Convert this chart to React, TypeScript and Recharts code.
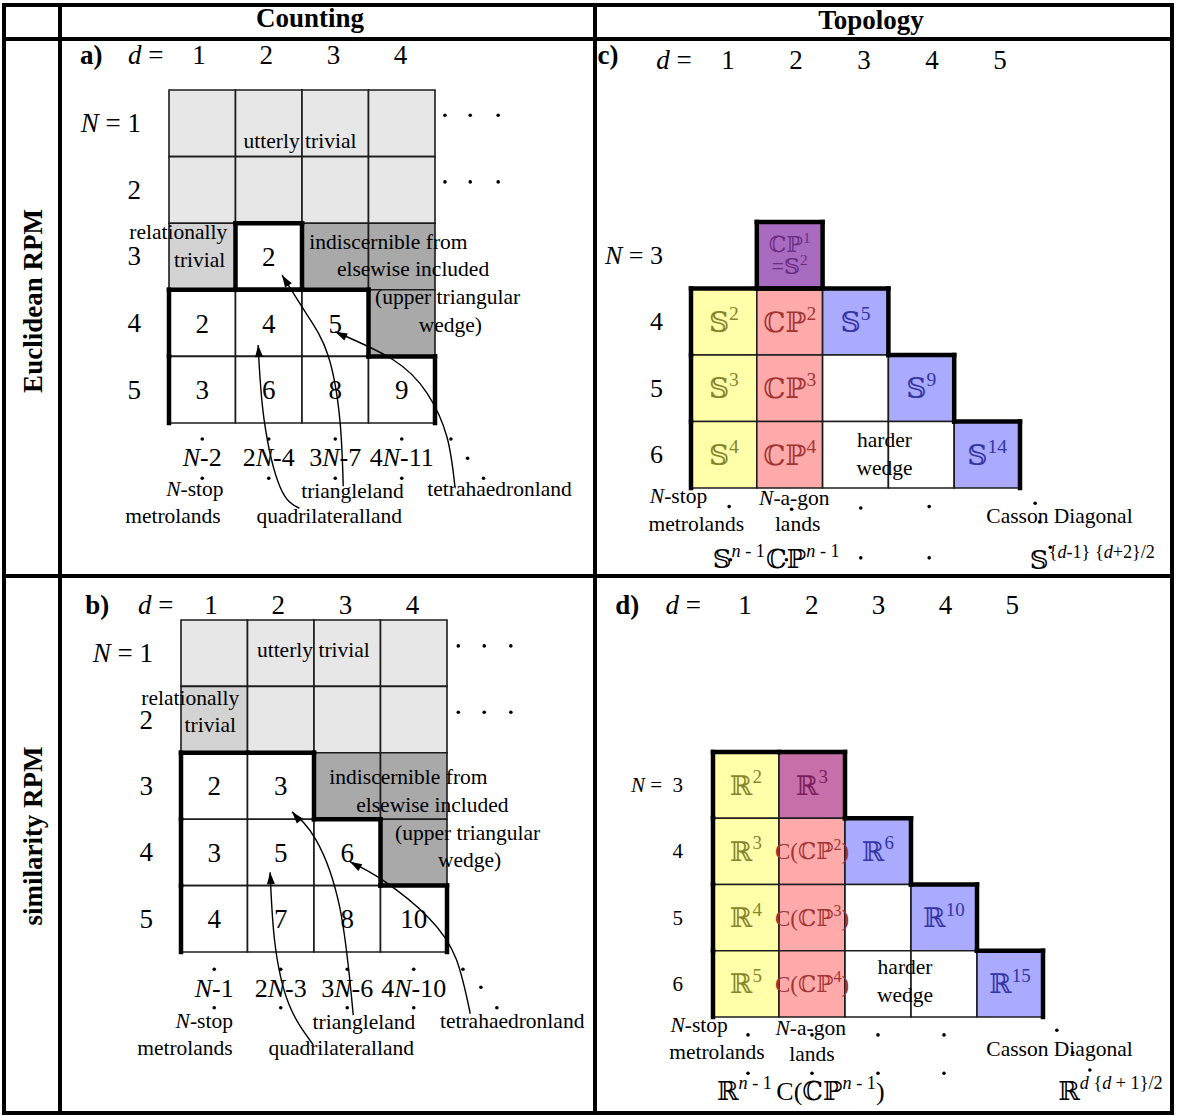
import React from 'react'
import { ComposedChart, Line, ReferenceArea, ReferenceLine, Scatter, XAxis, YAxis } from 'recharts'

const SERIF = "'Liberation Serif', 'Times New Roman', 'DejaVu Serif', serif"

// ---- data ----
const D_COUNT = [1, 2, 3, 4]
const N_COUNT = [1, 2, 3, 4, 5]
const D_TOPO = [1, 2, 3, 4, 5]
const N_TOPO = [3, 4, 5, 6]

// u = utterly trivial, r = relationally trivial, i = indiscernible, w = counted
const EUCLID_COUNTS = [
  [null, null, null, null],
  [null, null, null, null],
  [null, 2, null, null],
  [2, 4, 5, null],
  [3, 6, 8, 9],
]
const EUCLID_COUNT_SHADES = ['uuuu', 'uuuu', 'rwii', 'wwwi', 'wwww']
const EUCLID_FORMULAS = ['*N*-2', '2*N*-4', '3*N*-7', '4*N*-11']

const SIMILARITY_COUNTS = [
  [null, null, null, null],
  [null, null, null, null],
  [2, 3, null, null],
  [3, 5, 6, null],
  [4, 7, 8, 10],
]
const SIMILARITY_COUNT_SHADES = ['uuuu', 'ruuu', 'wwii', 'wwwi', 'wwww']
const SIMILARITY_FORMULAS = ['*N*-1', '2*N*-3', '3*N*-6', '4*N*-10']

// y = metrolands, s = N-a-gon lands, b = Casson diagonal, p/m = triangleland
const EUCLID_TOPOLOGY = [
  [null, 'ℂℙ^[1]|=𝕊^[2]', null, null, null],
  ['𝕊^[2]', 'ℂℙ^[2]', '𝕊^[5]', null, null],
  ['𝕊^[3]', 'ℂℙ^[3]', '', '𝕊^[9]', null],
  ['𝕊^[4]', 'ℂℙ^[4]', '', '', '𝕊^[14]'],
]
const EUCLID_TOPOLOGY_SHADES = ['.p...', 'ysb..', 'yswb.', 'yswwb']

const SIMILARITY_TOPOLOGY = [
  ['ℝ^[2]', 'ℝ^[3]', null, null, null],
  ['ℝ^[3]', 'C(ℂℙ^[2])', 'ℝ^[6]', null, null],
  ['ℝ^[4]', 'C(ℂℙ^[3])', '', 'ℝ^[10]', null],
  ['ℝ^[5]', 'C(ℂℙ^[4])', '', '', 'ℝ^[15]'],
]
const SIMILARITY_TOPOLOGY_SHADES = ['ym...', 'ysb..', 'yswb.', 'yswwb']

const FILLS: Record<string, string> = {
  u: '#e7e7e7', r: '#d3d3d3', i: '#a9a9a9', w: '#ffffff',
  y: '#ffffaa', s: '#ffaaaa', b: '#aaaaff', p: '#a86bc0', m: '#c66fa8',
}
const INK: Record<string, string> = {
  y: '#85852b', s: '#a13535', b: '#3535a6', p: '#6b2c80', m: '#7a1d5c',
}

type Note = { x: number; y: number; text: string; size?: number; anchor?: string; bold?: boolean }

type Cfg = {
  id: string
  left: number; top: number; width: number; height: number
  gridLeft: number; gridTop: number; cellW: number; cellH: number
  tickStart: number; tickStep: number
  dTicks: number[]; nTicks: number[]
  values: (string | number | null)[][]
  shades: string[]
  regions: number[][][]
  notes: Note[]
  dots: number[][]
  arrows: number[][][]
  tickY: number; nRight: number; nSize: number; valueSize: number; nEq: string
}

function parseRich(s: string, sup = false): { t: string; i: boolean; sup: boolean }[] {
  const out: { t: string; i: boolean; sup: boolean }[] = []
  let italic = false
  let buf = ''
  const flush = () => {
    if (buf) out.push({ t: buf, i: italic, sup })
    buf = ''
  }
  for (let k = 0; k < s.length; k++) {
    const c = s[k]
    if (c === '*') { flush(); italic = !italic; continue }
    if (c === '^' && s[k + 1] === '[') {
      flush()
      const end = s.indexOf(']', k + 2)
      out.push(...parseRich(s.slice(k + 2, end), true))
      k = end
      continue
    }
    buf += c
  }
  flush()
  return out
}

function RichText({ x, y, text, size, anchor = 'middle', fill = '#000', bold = false }: any) {
  const segs = parseRich(text)
  let lift = 0
  return (
    <text x={x} y={y} fontSize={size} fontFamily={SERIF} textAnchor={anchor} fill={fill} fontWeight={bold ? 'bold' : 'normal'}>
      {segs.map((s, idx) => {
        const target = s.sup ? -0.42 * size : 0
        const dy = target - lift
        lift = target
        return (
          <tspan key={idx} dy={dy || undefined} fontStyle={s.i ? 'italic' : undefined} fontSize={s.sup ? size * 0.7 : undefined}>
            {s.t}
          </tspan>
        )
      })}
    </text>
  )
}

const LABEL = 21.5

const PANELS: Cfg[] = [
  {
    id: 'a', left: 63, top: 41, width: 531, height: 533,
    gridLeft: 169, gridTop: 90, cellW: 66.5, cellH: 66.6, tickStart: 199, tickStep: 67.2,
    dTicks: D_COUNT, nTicks: N_COUNT,
    values: EUCLID_COUNTS, shades: EUCLID_COUNT_SHADES,
    regions: [[[3, 2]], [[4, 1], [4, 2], [4, 3], [5, 1], [5, 2], [5, 3], [5, 4]]],
    tickY: 23, nRight: 78, nSize: 27, valueSize: 27, nEq: '*N* = ',
    notes: [
      { x: -0.67, y: 0.11, text: 'a)', size: 27, bold: true },
      { x: 0.15, y: 0.11, text: '*d* =', size: 27 },
      { x: 2.47, y: 1.37, text: 'utterly trivial' },
      { x: 0.64, y: 2.74, text: 'relationally' },
      { x: 0.96, y: 3.16, text: 'trivial' },
      { x: 3.8, y: 2.89, text: 'indiscernible from' },
      { x: 4.17, y: 3.29, text: 'elsewise included' },
      { x: 4.69, y: 3.71, text: '(upper triangular' },
      { x: 4.73, y: 4.13, text: 'wedge)' },
      ...EUCLID_FORMULAS.map((f, i) => ({ x: D_COUNT[i], y: 6.15, text: f, size: 26 })),
      { x: 0.89, y: 6.6, text: '*N*-stop' },
      { x: 0.56, y: 7.0, text: 'metrolands' },
      { x: 3.26, y: 6.63, text: 'triangleland' },
      { x: 2.91, y: 7.0, text: 'quadrilateralland' },
      { x: 5.47, y: 6.6, text: 'tetrahaedronland' },
    ],
    dots: [
      [4.65, 0.88], [5.03, 0.88], [5.45, 0.88], [4.65, 1.88], [5.03, 1.88], [5.45, 1.88],
      [1, 5.74], [2, 5.74], [3, 5.74], [4, 5.74], [1, 6.33], [2, 6.33], [3, 6.33], [4, 6.33],
      [4.74, 5.74], [4.99, 6.03], [5.23, 6.33],
    ],
    arrows: [
      [[2.46, 6.78], [2.17, 6.46], [1.93, 5.45], [1.84, 4.33]],
      [[3.12, 6.45], [3.07, 5.46], [2.89, 4.48], [2.56, 3.85], [2.2, 3.28]],
      [[4.8, 6.46], [4.68, 5.71], [4.38, 5.05], [3.87, 4.55], [3.0, 4.13]],
    ],
  },
  {
    id: 'b', left: 63, top: 579, width: 531, height: 532,
    gridLeft: 181, gridTop: 620, cellW: 66.5, cellH: 66.4, tickStart: 211, tickStep: 67.2,
    dTicks: D_COUNT, nTicks: N_COUNT,
    values: SIMILARITY_COUNTS, shades: SIMILARITY_COUNT_SHADES,
    regions: [[[3, 1], [3, 2], [4, 1], [4, 2], [4, 3], [5, 1], [5, 2], [5, 3], [5, 4]]],
    tickY: 35, nRight: 90, nSize: 27, valueSize: 27, nEq: '*N* = ',
    notes: [
      { x: -0.76, y: 0.41, text: 'b)', size: 27, bold: true },
      { x: 0.12, y: 0.41, text: '*d* =', size: 27 },
      { x: 2.49, y: 1.06, text: 'utterly trivial' },
      { x: 0.64, y: 1.78, text: 'relationally' },
      { x: 0.94, y: 2.19, text: 'trivial' },
      { x: 3.92, y: 2.97, text: 'indiscernible from' },
      { x: 4.28, y: 3.39, text: 'elsewise included' },
      { x: 4.81, y: 3.81, text: '(upper triangular' },
      { x: 4.84, y: 4.22, text: 'wedge)' },
      ...SIMILARITY_FORMULAS.map((f, i) => ({ x: D_COUNT[i], y: 6.18, text: f, size: 26 })),
      { x: 0.85, y: 6.64, text: '*N*-stop' },
      { x: 0.56, y: 7.05, text: 'metrolands' },
      { x: 3.25, y: 6.66, text: 'triangleland' },
      { x: 2.91, y: 7.05, text: 'quadrilateralland' },
      { x: 5.48, y: 6.64, text: 'tetrahaedronland' },
    ],
    dots: [
      [4.67, 0.89], [5.06, 0.89], [5.46, 0.89], [4.67, 1.89], [5.06, 1.89], [5.46, 1.89],
      [1, 5.76], [2, 5.76], [3, 5.76], [4, 5.76], [1, 6.34], [2, 6.34], [3, 6.34], [4, 6.34],
      [4.74, 5.76], [5.01, 6.03], [5.25, 6.34],
    ],
    arrows: [
      [[2.49, 6.9], [2.12, 6.28], [1.91, 5.35], [1.84, 4.3]],
      [[3.09, 6.45], [2.89, 4.84], [2.53, 3.81], [2.17, 3.39]],
      [[4.85, 6.43], [4.64, 5.61], [4.23, 4.99], [3.55, 4.43], [3.04, 4.14]],
    ],
  },
  {
    id: 'c', left: 598, top: 41, width: 572, height: 533,
    gridLeft: 691, gridTop: 222, cellW: 65.8, cellH: 66.5, tickStart: 728, tickStep: 68,
    dTicks: D_TOPO, nTicks: N_TOPO,
    values: EUCLID_TOPOLOGY, shades: EUCLID_TOPOLOGY_SHADES,
    regions: [[[3, 2]], [[4, 1], [4, 2], [4, 3], [5, 1], [5, 2], [5, 3], [5, 4], [6, 1], [6, 2], [6, 3], [6, 4], [6, 5]]],
    tickY: 28, nRight: 65, nSize: 26, valueSize: 28, nEq: '*N* = ',
    notes: [
      { x: -0.76, y: 0.12, text: 'c)', size: 27, bold: true },
      { x: 0.24, y: 0.2, text: '*d* =', size: 27 },
      { x: 3.44, y: 5.88, text: 'harder' },
      { x: 3.44, y: 6.3, text: 'wedge' },
      { x: 0.31, y: 6.73, text: '*N*-stop' },
      { x: 0.58, y: 7.15, text: 'metrolands' },
      { x: 2.07, y: 6.76, text: '*N*-a-gon' },
      { x: 2.12, y: 7.15, text: 'lands' },
      { x: 6.1, y: 7.03, text: 'Casson Diagonal' },
      { x: 0.83, y: 7.7, text: '𝕊^[*n* - 1]', size: 26, anchor: 'start' },
      { x: 1.64, y: 7.7, text: 'ℂℙ^[*n* - 1]', size: 26, anchor: 'start' },
      { x: 5.65, y: 7.72, text: '𝕊^[{*d*-1} {*d*+2}/2]', size: 26, anchor: 'start' },
    ],
    dots: [
      [1.08, 6.78], [2.03, 6.82], [3.08, 6.8], [4.12, 6.78], [1.1, 7.58], [1.95, 7.58], [3.08, 7.55], [4.12, 7.55],
      [5.73, 6.73], [5.8, 7.01], [5.96, 7.39],
    ],
    arrows: [],
  },
  {
    id: 'd', left: 598, top: 579, width: 572, height: 532,
    gridLeft: 713, gridTop: 752, cellW: 66, cellH: 66.25, tickStart: 745, tickStep: 66.8,
    dTicks: D_TOPO, nTicks: N_TOPO,
    values: SIMILARITY_TOPOLOGY, shades: SIMILARITY_TOPOLOGY_SHADES,
    regions: [[[3, 1], [3, 2], [4, 1], [4, 2], [4, 3], [5, 1], [5, 2], [5, 3], [5, 4], [6, 1], [6, 2], [6, 3], [6, 4], [6, 5]]],
    tickY: 35, nRight: 85, nSize: 21, valueSize: 27, nEq: '*N* =\u00a0\u00a0',
    notes: [
      { x: -0.8, y: 0.42, text: 'd)', size: 27, bold: true },
      { x: 0.05, y: 0.42, text: '*d* =', size: 27 },
      { x: 3.41, y: 5.85, text: 'harder' },
      { x: 3.41, y: 6.27, text: 'wedge' },
      { x: 0.29, y: 6.73, text: '*N*-stop' },
      { x: 0.56, y: 7.13, text: 'metrolands' },
      { x: 1.98, y: 6.77, text: '*N*-a-gon' },
      { x: 2.0, y: 7.16, text: 'lands' },
      { x: 5.75, y: 7.09, text: 'Casson Diagonal' },
      { x: 0.56, y: 7.75, text: 'ℝ^[*n* - 1]', size: 26, anchor: 'start' },
      { x: 1.46, y: 7.75, text: 'C(ℂℙ^[*n* - 1])', size: 26, anchor: 'start' },
      { x: 5.73, y: 7.75, text: 'ℝ^[*d* {*d* + 1}/2]', size: 26, anchor: 'start' },
    ],
    dots: [
      [1.03, 6.77], [2.0, 6.77], [3.0, 6.77], [4.0, 6.77], [1.03, 7.35], [2.0, 7.35], [3.0, 7.35], [4.0, 7.35],
      [5.71, 6.7], [5.95, 7.04], [6.21, 7.3],
    ],
    arrows: [],
  },
]

const ArrowHead = (p: any) => (
  <polygon points="0,0 -12,-4 -12,4" transform={`translate(${p.cx},${p.cy}) rotate(${p.payload.angle})`} fill="#000" />
)
const Dot = (p: any) => <circle cx={p.cx} cy={p.cy} r={1.8} fill="#000" />

function Panel({ cfg }: { cfg: Cfg }) {
  const d0 = cfg.dTicks[0]
  const n0 = cfg.nTicks[0]
  const xMin = d0 - 0.5 - (cfg.gridLeft - cfg.left) / cfg.cellW
  const xMax = xMin + cfg.width / cfg.cellW
  const yMin = n0 - 0.5 - (cfg.gridTop - cfg.top) / cfg.cellH
  const yMax = yMin + cfg.height / cfg.cellH
  const tMin = d0 - (cfg.tickStart - cfg.left) / cfg.tickStep
  const tMax = tMin + cfg.width / cfg.tickStep
  const maxN = cfg.nTicks[cfg.nTicks.length - 1]

  const cells: { N: number; d: number; shade: string; value: any }[] = []
  cfg.shades.forEach((row, ri) =>
    row.split('').forEach((s, ci) => {
      if (s !== '.') cells.push({ N: cfg.nTicks[ri], d: cfg.dTicks[ci], shade: s, value: cfg.values[ri][ci] })
    }),
  )
  const labels = cells
    .filter((c) => c.value !== null && c.value !== '')
    .map((c) => ({ x: c.d, y: c.N, text: String(c.value), shade: c.shade }))

  const segs: number[][][] = []
  cfg.regions.forEach((region) => {
    const has = (n: number, d: number) => region.some(([a, b]) => a === n && b === d)
    region.forEach(([n, d]) => {
      if (!has(n - 1, d)) segs.push([[d - 0.5, n - 0.5], [d + 0.5, n - 0.5]])
      if (n < maxN && !has(n + 1, d)) segs.push([[d - 0.5, n + 0.5], [d + 0.5, n + 0.5]])
      if (!has(n, d - 1)) segs.push([[d - 0.5, n - 0.5], [d - 0.5, n + 0.5]])
      if (!has(n, d + 1)) segs.push([[d + 0.5, n - 0.5], [d + 0.5, n + 0.5]])
    })
  })

  const heads = cfg.arrows.map((a) => {
    const [px, py] = a[a.length - 2]
    const [x, y] = a[a.length - 1]
    const angle = (Math.atan2((y - py) * cfg.cellH, (x - px) * cfg.cellW) * 180) / Math.PI
    return { x, y, angle }
  })

  return (
    <div style={{ position: 'absolute', left: cfg.left, top: cfg.top }}>
      <ComposedChart width={cfg.width} height={cfg.height} margin={{ top: 0, right: 0, bottom: 0, left: 0 }}>
        <XAxis type="number" dataKey="x" domain={[xMin, xMax]} hide />
        <XAxis
          xAxisId="t" type="number" dataKey="x" domain={[tMin, tMax]} allowDataOverflow orientation="top" mirror
          ticks={cfg.dTicks} interval={0} axisLine={false} tickLine={false} tickSize={0}
          tick={(p: any) => (
            <text x={p.x} y={cfg.tickY} textAnchor="middle" fontSize={27} fontFamily={SERIF} fill="#000">
              {p.payload.value}
            </text>
          )}
        />
        <YAxis
          type="number" dataKey="y" domain={[yMin, yMax]} reversed mirror
          ticks={cfg.nTicks} interval={0} axisLine={false} tickLine={false} tickSize={0}
          tick={(p: any) => (
            <RichText
              x={cfg.nRight} y={p.y + cfg.nSize * 0.33} anchor="end" size={cfg.nSize}
              text={(p.index === 0 ? cfg.nEq : '') + p.payload.value}
            />
          )}
        />
        {cells.map((c) => (
          <ReferenceArea
            key={`c${c.N}-${c.d}`} x1={c.d - 0.5} x2={c.d + 0.5} y1={c.N - 0.5} y2={c.N + 0.5}
            fill={FILLS[c.shade]} fillOpacity={1} stroke="#1c1c1c" strokeWidth={1.6} ifOverflow="visible"
          />
        ))}
        {segs.map((s, i) => (
          <ReferenceLine
            key={`s${i}`} segment={[{ x: s[0][0], y: s[0][1] }, { x: s[1][0], y: s[1][1] }]}
            stroke="#000" strokeWidth={4.5} strokeLinecap="square" ifOverflow="visible"
          />
        ))}
        {cfg.arrows.map((a, i) => (
          <Line
            key={`a${i}`} data={a.map(([x, y]) => ({ x, y }))} dataKey="y" type="natural"
            dot={false} activeDot={false} stroke="#000" strokeWidth={1.4} isAnimationActive={false}
          />
        ))}
        <Scatter data={heads} shape={ArrowHead} isAnimationActive={false} />
        <Scatter data={cfg.dots.map(([x, y]) => ({ x, y }))} shape={Dot} isAnimationActive={false} />
        <Scatter
          data={labels}
          isAnimationActive={false}
          shape={(p: any) => {
            const lines = p.payload.text.split('|')
            const base = p.payload.text.length > 8 ? cfg.valueSize * 0.85 : cfg.valueSize
            const size = lines.length > 1 ? base * 0.93 : base
            const lh = size
            return (
              <g>
                {lines.map((ln: string, i: number) => (
                  <RichText
                    key={i} x={p.cx} y={p.cy + size * 0.35 + (i - (lines.length - 1) / 2) * lh}
                    text={ln} size={size} fill={INK[p.payload.shade] ?? '#000'}
                  />
                ))}
              </g>
            )
          }}
        />
        <Scatter
          data={cfg.notes}
          isAnimationActive={false}
          shape={(p: any) => (
            <RichText
              x={p.cx} y={p.cy} text={p.payload.text} size={p.payload.size ?? LABEL}
              anchor={p.payload.anchor ?? 'middle'} bold={p.payload.bold}
            />
          )}
        />
      </ComposedChart>
    </div>
  )
}

const FRAME_X = [2, 58, 593, 1170]
const FRAME_Y = [3, 37, 574, 1111]

export default function App() {
  return (
    <div style={{ position: 'absolute', left: 0, top: 0, width: 1177, height: 1116, background: '#fff' }}>
      {FRAME_X.map((x) => (
        <div key={`v${x}`} style={{ position: 'absolute', left: x, top: 3, width: 4, height: 1112, background: '#000' }} />
      ))}
      {FRAME_Y.map((y) => (
        <div key={`h${y}`} style={{ position: 'absolute', left: 2, top: y, width: 1172, height: 4, background: '#000' }} />
      ))}
      <svg width={1177} height={1116} style={{ position: 'absolute', left: 0, top: 0 }}>
        <g fontFamily={SERIF} fontWeight="bold" fontSize={27} textAnchor="middle" fill="#000">
          <text x={310} y={27}>Counting</text>
          <text x={871} y={29}>Topology</text>
          <text transform="translate(42,301) rotate(-90)">Euclidean RPM</text>
          <text transform="translate(42,836) rotate(-90)">similarity  RPM</text>
        </g>
      </svg>
      {PANELS.map((p) => (
        <Panel key={p.id} cfg={p} />
      ))}
    </div>
  )
}
